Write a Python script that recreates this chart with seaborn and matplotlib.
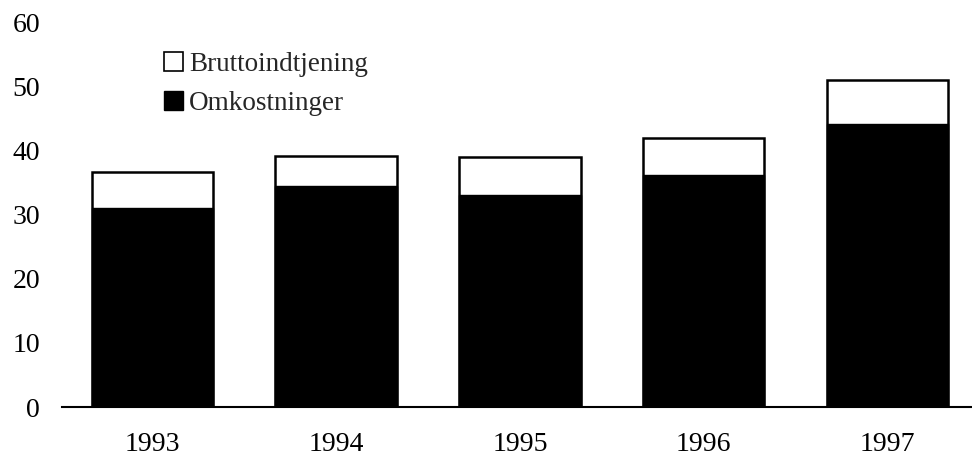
import matplotlib
matplotlib.use("Agg")
import matplotlib.pyplot as plt
import matplotlib.patches as mpatches
import pandas as pd
import seaborn as sns

years = ["1993", "1994", "1995", "1996", "1997"]
omkostninger = [31.0, 34.5, 33.1, 36.2, 44.1]
bruttoindtjening = [5.6, 4.6, 5.8, 5.8, 6.9]

sns.set_theme(style="white")
plt.rcParams["font.family"] = ["Liberation Serif", "DejaVu Serif"]

df = pd.DataFrame({"year": years, "omk": omkostninger, "brutto": bruttoindtjening})
df["total"] = df["omk"] + df["brutto"]

fig = plt.figure(figsize=(9.72, 4.59), dpi=100)
ax = fig.add_axes([0.064, 0.113, 0.936, 0.839])

sns.barplot(data=df, x="year", y="total", order=years, color="white",
            edgecolor="black", linewidth=1.8, width=0.66, saturation=1, ax=ax)
sns.barplot(data=df, x="year", y="omk", order=years, color="black",
            edgecolor="black", linewidth=1.0, width=0.66, saturation=1, ax=ax)

ax.set_ylim(0, 60)
ax.set_xlim(-0.49, 4.46)
ax.set_yticks(range(0, 61, 10))
ax.set_xlabel("")
ax.set_ylabel("")
for side in ["left", "top", "right"]:
    ax.spines[side].set_visible(False)
ax.spines["bottom"].set_color("black")
ax.spines["bottom"].set_linewidth(1.5)
ax.tick_params(axis="both", length=0, labelsize=20, colors="black")
ax.tick_params(axis="x", pad=18)
ax.tick_params(axis="y", pad=16)

handles = [
    mpatches.Patch(facecolor="white", edgecolor="black", linewidth=1.2, label="Bruttoindtjening"),
    mpatches.Patch(facecolor="black", edgecolor="black", label="Omkostninger"),
]
fig.legend(handles=handles, loc="upper left", bbox_to_anchor=(0.158, 0.91),
           frameon=False, fontsize=19.5, handlelength=0.7, handleheight=0.7,
           handletextpad=0.2, labelspacing=0.5, borderaxespad=0)

fig.savefig("out.png", dpi=100)
